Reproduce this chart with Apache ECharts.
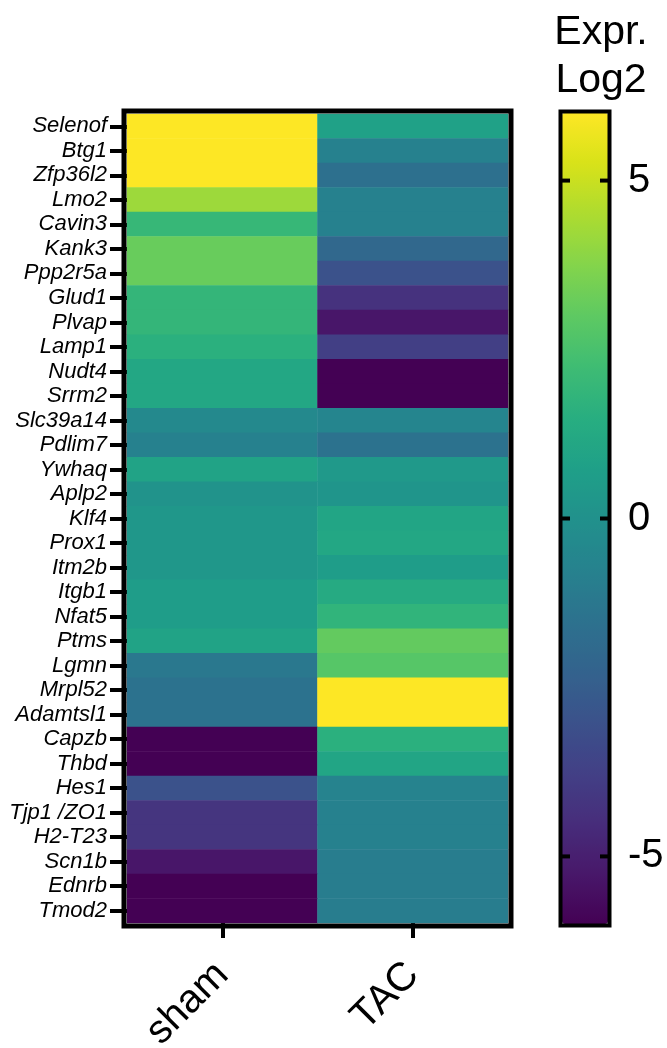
<!DOCTYPE html>
<html>
<head>
<meta charset="utf-8">
<script src="https://cdn.jsdelivr.net/npm/echarts@6/dist/echarts.min.js"></script>
<style>
html,body{margin:0;padding:0;background:#fff;}
#chart{width:667px;height:1048px;}
</style>
</head>
<body>
<div id="chart"></div>
<script>
const genes = ['Selenof','Btg1','Zfp36l2','Lmo2','Cavin3','Kank3','Ppp2r5a','Glud1','Plvap','Lamp1','Nudt4','Srrm2','Slc39a14','Pdlim7','Ywhaq','Aplp2','Klf4','Prox1','Itm2b','Itgb1','Nfat5','Ptms','Lgmn','Mrpl52','Adamtsl1','Capzb','Thbd','Hes1','Tjp1 /ZO1','H2-T23','Scn1b','Ednrb','Tmod2'];
const groups = ['sham','TAC'];
const sham = [6,6,6,4.2,2.0,3.2,3.2,1.9,1.9,1.6,1.1,1.1,-0.4,-0.8,0.9,0.1,0.3,0.3,0.3,0.6,0.6,0.9,-1.2,-1.5,-1.5,-6,-6,-3.0,-4.2,-4.2,-5.3,-6,-6];
const tac = [0.8,-0.8,-1.6,-0.8,-0.8,-2.0,-3.0,-4.3,-5.3,-3.8,-6,-6,-0.6,-1.5,0.4,0.2,1.0,1.1,0.6,1.3,1.8,3.1,2.8,6,6,1.6,1.0,-0.7,-0.8,-0.8,-1.0,-1.0,-1.0];
const colorTicks = [-5,0,5];
const colorMin = -6, colorMax = 6;

const viridis = ['#440154','#48186a','#472d7b','#424086','#3b528b','#33638d','#2c728e','#26828e','#21918c','#1fa088','#28ae80','#3fbc73','#5ec962','#84d44b','#addc30','#d8e219','#fde725'];

const data = [];
genes.forEach((g,i)=>{ data.push([0,i,sham[i]]); data.push([1,i,tac[i]]); });

const FONT = '"Liberation Sans", Arial, sans-serif';
const CB_LEFT = 562, CB_W = 46, CB_TOP = 113, CB_H = 811, CB_TICK = 8;
const chart = echarts.init(document.getElementById('chart'), null, {renderer:'canvas'});
chart.setOption({
  animation:false,
  backgroundColor:'#fff',
  grid:[
    {left:127, top:114, width:381, height:809, outerBoundsMode:'none', containLabel:false},
    {left:CB_LEFT, top:CB_TOP, width:CB_W, height:CB_H, outerBoundsMode:'none', containLabel:false}
  ],
  xAxis:[
    {type:'category', gridIndex:0, data:groups,
     axisLine:{show:false},
     axisTick:{show:true, alignWithLabel:true, length:15, lineStyle:{width:4,color:'#000'}},
     axisLabel:{rotate:45, fontSize:40, color:'#000', fontFamily:FONT, margin:46, interval:0},
     splitLine:{show:false}},
    {type:'value', gridIndex:1, show:false, min:0, max:1}
  ],
  yAxis:[
    {type:'category', gridIndex:0, data:genes, inverse:true,
     axisLine:{show:false},
     axisTick:{show:true, alignWithLabel:true, interval:0, length:17, lineStyle:{width:4,color:'#000'}},
     axisLabel:{interval:0, fontSize:22, fontStyle:'italic', color:'#000', fontFamily:FONT, margin:20},
     splitLine:{show:false}},
    {type:'value', gridIndex:1, position:'right', min:colorMin, max:colorMax,
     axisLine:{show:false},
     axisTick:{show:false},
     axisLabel:{show:true, customValues:colorTicks, fontSize:40, color:'#000', fontFamily:FONT, margin:20},
     splitLine:{show:false}}
  ],
  visualMap:{
    type:'continuous', min:colorMin, max:colorMax, seriesIndex:0,
    calculable:false, orient:'vertical', left:CB_LEFT, top:CB_TOP,
    itemWidth:CB_W, itemHeight:CB_H, padding:0, text:null, showLabel:false,
    inRange:{color:viridis}, hoverLink:false
  },
  series:[
    {type:'heatmap', xAxisIndex:0, yAxisIndex:0, data:data, itemStyle:{borderWidth:0}, emphasis:{disabled:true}}
  ]
});

const graphics = [
  {type:'rect', z:100, shape:{x:124, y:111, width:387, height:815}, style:{fill:'none', stroke:'#000', lineWidth:5}},
  {type:'rect', z:100, shape:{x:CB_LEFT-1.5, y:CB_TOP-1.5, width:CB_W+3, height:CB_H+3}, style:{fill:'none', stroke:'#000', lineWidth:4}},
  {type:'text', z:100, style:{text:'Expr.', x:601, y:53, textAlign:'center', textVerticalAlign:'bottom', font:'41px "Liberation Sans", Arial, sans-serif', fill:'#000'}},
  {type:'text', z:100, style:{text:'Log2', x:601, y:101, textAlign:'center', textVerticalAlign:'bottom', font:'41px "Liberation Sans", Arial, sans-serif', fill:'#000'}}
];
colorTicks.forEach(v => {
  const y = chart.convertToPixel({yAxisIndex:1}, v);
  graphics.push({type:'line', z:100, shape:{x1:CB_LEFT, y1:y, x2:CB_LEFT+CB_TICK, y2:y}, style:{stroke:'#000', lineWidth:4}});
  graphics.push({type:'line', z:100, shape:{x1:CB_LEFT+CB_W-CB_TICK, y1:y, x2:CB_LEFT+CB_W, y2:y}, style:{stroke:'#000', lineWidth:4}});
});
chart.setOption({graphic:graphics});
</script>
</body>
</html>
